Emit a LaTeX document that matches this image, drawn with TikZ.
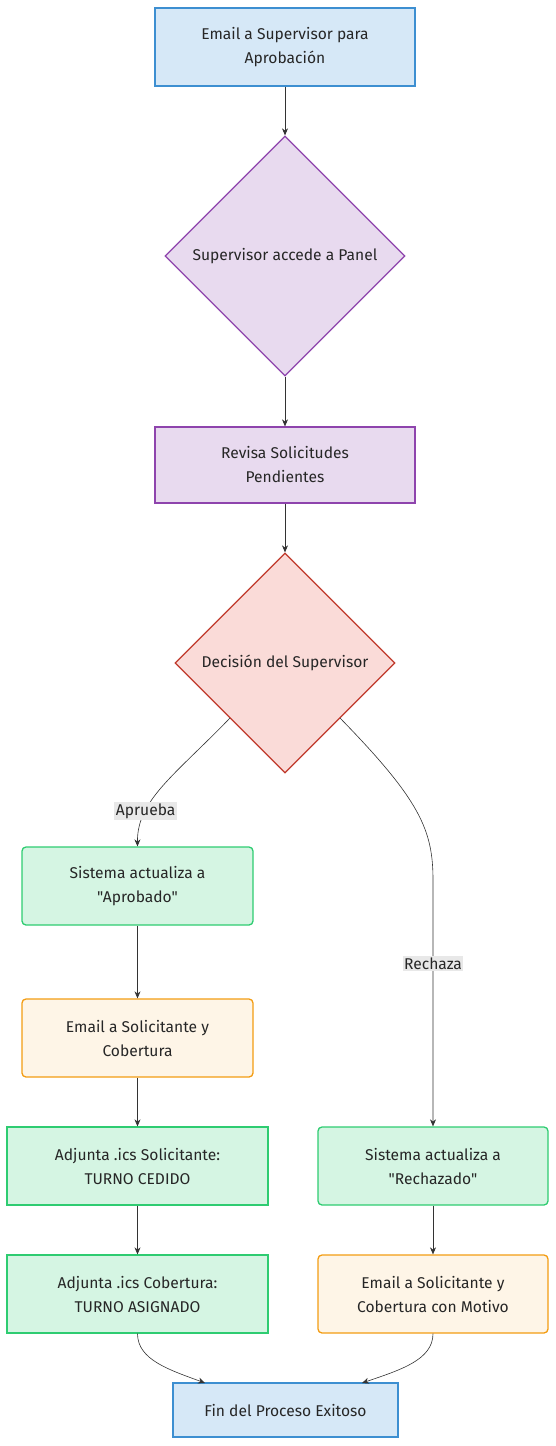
\documentclass[tikz,border=0pt]{standalone}
\usepackage{fontspec}
\setmainfont{Fira Sans}
\newfontfamily\fira{Fira Sans}
\usetikzlibrary{shapes.geometric,arrows.meta}
\definecolor{bluef}{HTML}{D6E8F7}\definecolor{blued}{HTML}{3D8FD1}
\definecolor{purf}{HTML}{E8DAEF}\definecolor{purd}{HTML}{8E44AD}
\definecolor{redf}{HTML}{FADBD8}\definecolor{redd}{HTML}{C0392B}
\definecolor{grnf}{HTML}{D5F5E3}\definecolor{grnd}{HTML}{2ECC71}
\definecolor{orf}{HTML}{FEF5E7}\definecolor{ord}{HTML}{F39C12}
\definecolor{edge}{HTML}{333333}\definecolor{lbl}{HTML}{E8E8E8}
\tikzset{
  base/.style={line width=1.3pt,align=center,font=\fira\fontsize{15.6}{24}\selectfont,text=black!85,inner sep=0pt},
  bluebox/.style={base,draw=blued,fill=bluef},
  purbox/.style={base,draw=purd,fill=purf},
  grnbox/.style={base,draw=grnd,fill=grnf},
  orbox/.style={base,draw=ord,fill=orf},
  rnd/.style={rounded corners=4pt},
  dia/.style={base,diamond,aspect=1,inner sep=0pt},
  conn/.style={draw=edge,line width=0.6pt,-{Stealth[length=7pt,width=6pt]}},
  elabel/.style={fill=lbl,font=\fira\fontsize{15.6}{18}\selectfont,text=black!85,inner sep=1.5pt}
}
\begin{document}
\begin{tikzpicture}[x=1pt,y=-1pt]
\useasboundingbox (0,0) rectangle (556,1446);
\node[bluebox,minimum width=260pt,minimum height=78pt] (n1) at (285,47) {Email a Supervisor para\\Aprobación};
\node[purbox,dia,minimum width=240pt,minimum height=240pt] (n2) at (285,256) {Supervisor accede a Panel};
\node[purbox,minimum width=260pt,minimum height=76pt] (n3) at (285,465) {Revisa Solicitudes\\Pendientes};
\node[dia,base,draw=redd,fill=redf,minimum width=220pt,minimum height=220pt] (n4) at (285,663) {Decisión del Supervisor};
\node[grnbox,rnd,minimum width=231pt,minimum height=78pt] (n5) at (137.5,886) {Sistema actualiza a\\"Aprobado"};
\node[orbox,rnd,minimum width=231pt,minimum height=78pt] (n6) at (137.5,1038) {Email a Solicitante y\\Cobertura};
\node[grnbox,minimum width=261pt,minimum height=78pt] (n7) at (137.5,1166) {Adjunta .ics Solicitante:\\TURNO CEDIDO};
\node[grnbox,minimum width=261pt,minimum height=78pt] (n8) at (137.5,1294) {Adjunta .ics Cobertura:\\TURNO ASIGNADO};
\node[grnbox,rnd,minimum width=230pt,minimum height=78pt] (n9) at (433,1166) {Sistema actualiza a\\"Rechazado"};
\node[orbox,rnd,minimum width=230pt,minimum height=78pt] (n10) at (433,1294) {Email a Solicitante y\\Cobertura con Motivo};
\node[bluebox,minimum width=225pt,minimum height=54pt] (n11) at (285.5,1410) {Fin del Proceso Exitoso};
\draw[conn] (n1) -- (n2);
\draw[conn] (n2) -- (n3);
\draw[conn] (n3) -- (n4);
\path (n4.center) ++(-55,55) coordinate (a1);
\path (n4.center) ++(55,55) coordinate (b1);
\draw[conn] (a1) .. controls (175,775) and (137,800) .. node[pos=0.72,elabel] (la) {Aprueba} (n5.north);
\draw[conn] (b1) .. controls (420,800) and (433,830) .. (433,880) -- node[pos=0.34,elabel] (lb) {Rechaza} (n9.north);
\draw[conn] (n5) -- (n6);
\draw[conn] (n6) -- (n7);
\draw[conn] (n7) -- (n8);
\draw[conn] (n9) -- (n10);
\draw[conn] (n8.south) .. controls (137.5,1360) and (170,1370) .. (205,1383);
\draw[conn] (n10.south) .. controls (433,1360) and (400,1370) .. (362,1383);
\end{tikzpicture}
\end{document}
